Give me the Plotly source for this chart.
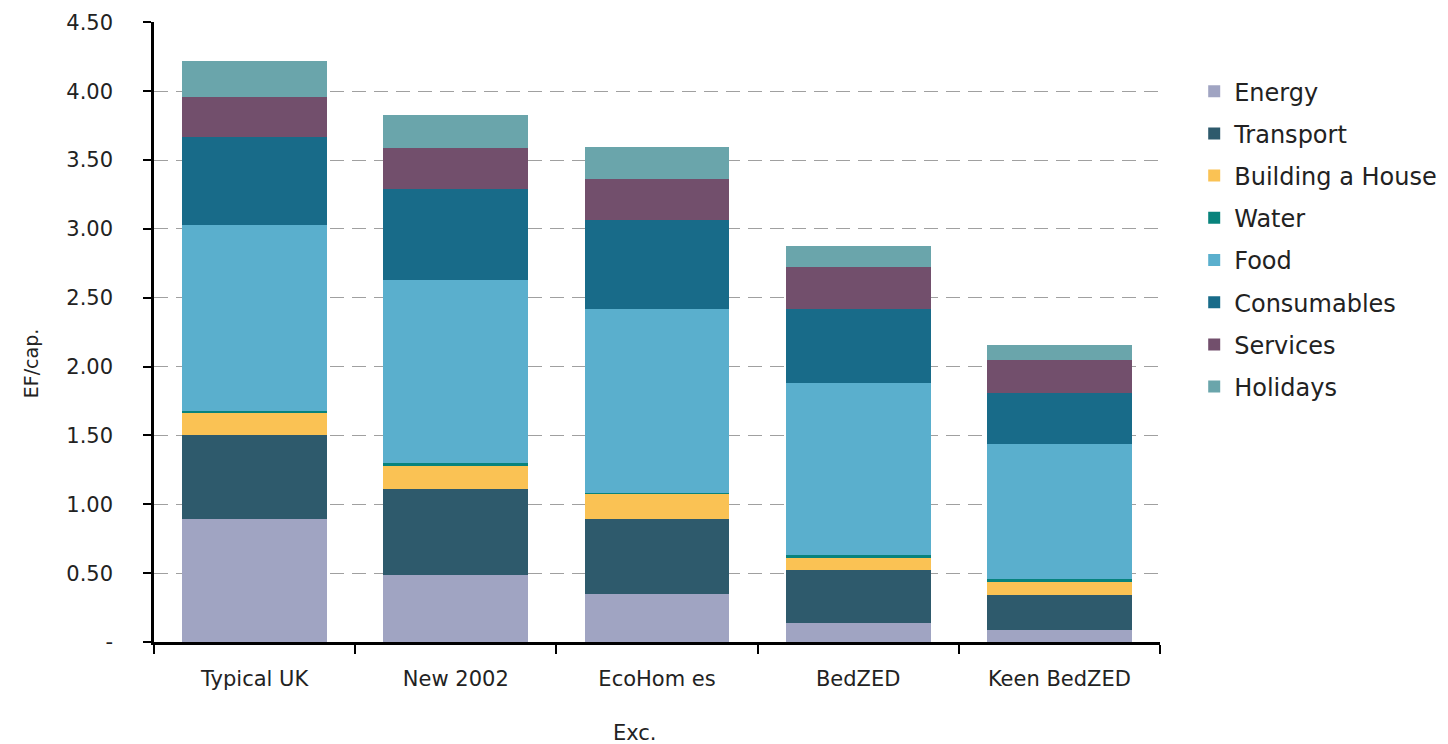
import plotly.graph_objects as go

categories = ["Typical UK", "New 2002", "EcoHom es", "BedZED", "Keen BedZED"]
energy = [0.89, 0.49, 0.35, 0.14, 0.09]
transport = [0.61, 0.62, 0.54, 0.38, 0.255]
building = [0.16, 0.17, 0.19, 0.09, 0.09]
water = [0.02, 0.02, 0.005, 0.02, 0.02]
food = [1.35, 1.33, 1.335, 1.25, 0.985]
consumables = [0.64, 0.66, 0.645, 0.54, 0.37]
services = [0.29, 0.30, 0.30, 0.30, 0.24]
holidays = [0.26, 0.24, 0.23, 0.155, 0.11]

series_names = ["Energy", "Transport", "Building a House", "Water", "Food",
                "Consumables", "Services", "Holidays"]
series_values = [energy, transport, building, water, food, consumables, services, holidays]
colors = ["#a0a4c2", "#2e5a6c", "#fac254", "#08837c", "#5aafcd",
          "#186b89", "#724f6c", "#6aa5ab"]

y_tickvals = [0, 0.5, 1.0, 1.5, 2.0, 2.5, 3.0, 3.5, 4.0, 4.5]
y_ticktext = ["-", "0.50", "1.00", "1.50", "2.00", "2.50", "3.00", "3.50", "4.00", "4.50"]

FONT = "DejaVu Sans"
TXT = "#222222"

fig = go.Figure()
for i, (name, vals, col) in enumerate(zip(series_names, series_values, colors)):
    fig.add_trace(go.Bar(
        x=categories, y=vals, name=name,
        marker=dict(color=col, line=dict(width=0)),
        legendgroup=f"g{i}",
    ))

fig.update_layout(
    barmode="stack",
    bargap=0.28,
    width=1448, height=744,
    margin=dict(l=154, r=288, t=22, b=102, autoexpand=False),
    plot_bgcolor="white", paper_bgcolor="white",
    font=dict(family=FONT, color=TXT, size=21),
    showlegend=True,
    legend=dict(
        x=1.034, y=0.924, xanchor="left", yanchor="top",
        traceorder="grouped", tracegroupgap=8,
        font=dict(family=FONT, size=24, color=TXT),
        itemwidth=30,
    ),
    xaxis=dict(
        showline=True, linecolor="black", linewidth=2.5,
        ticks="outside", tickson="boundaries", ticklen=9, tickwidth=2, tickcolor="black",
        ticklabelstandoff=16,
        tickfont=dict(family=FONT, size=21, color=TXT),
        showgrid=False,
    ),
    yaxis=dict(
        range=[0, 4.503],
        tickvals=y_tickvals, ticktext=y_ticktext,
        showline=True, linecolor="black", linewidth=2.5,
        ticks="outside", ticklen=8, tickwidth=1.5, tickcolor="black",
        ticklabelstandoff=26,
        tickfont=dict(family=FONT, size=21, color=TXT),
        showgrid=True, gridcolor="#a0a0a0", gridwidth=1.3, griddash="14px,8px",
        zeroline=False,
    ),
    annotations=[
        dict(text="Exc.", x=0.478, y=-0.147, xref="paper", yref="paper",
             showarrow=False, font=dict(family=FONT, size=21, color=TXT),
             xanchor="center", yanchor="middle"),
        dict(text="EF/cap.", x=-0.122, y=0.45, xref="paper", yref="paper",
             showarrow=False, textangle=-90,
             font=dict(family=FONT, size=19, color=TXT),
             xanchor="center", yanchor="middle"),
    ],
)

fig.write_html("out.html")
